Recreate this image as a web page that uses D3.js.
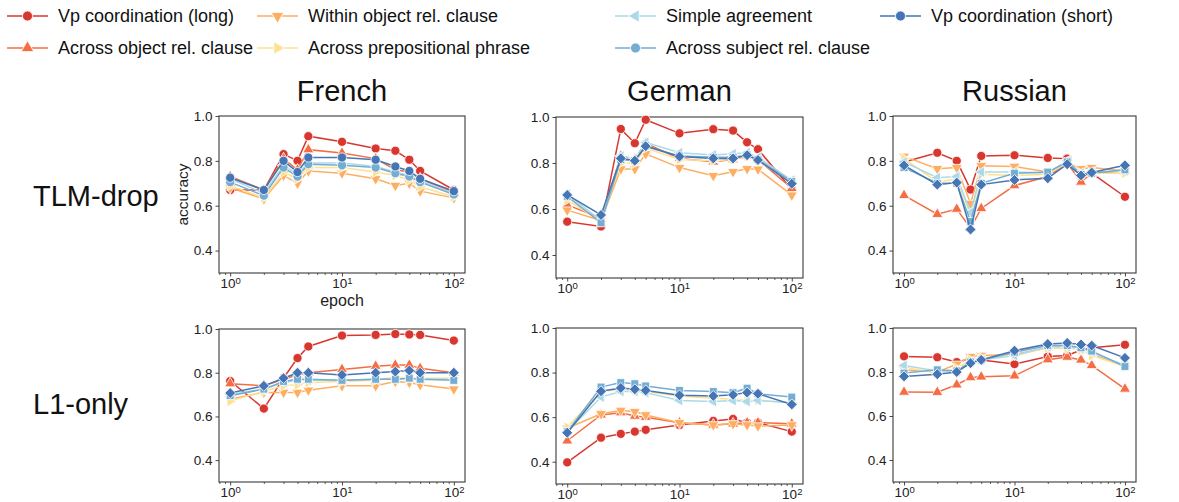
<!DOCTYPE html>
<html>
<head>
<meta charset="utf-8">
<script src="https://cdn.jsdelivr.net/npm/d3@7"></script>
<style>
  body { margin: 0; background: #fff; }
  svg { display: block; font-family: "Liberation Sans", Arial, sans-serif; }
</style>
</head>
<body>
<svg id="chart" width="1179" height="502"></svg>
<script>
// ---- data ----
const epochs = [1, 2, 3, 4, 5, 10, 20, 30, 40, 50, 100];
const languages = ['French', 'German', 'Russian'];
const regimes = ['TLM-drop', 'L1-only'];
const seriesNames = [
    'Vp coordination (long)',
    'Across object rel. clause',
    'Within object rel. clause',
    'Across prepositional phrase',
    'Simple agreement',
    'Across subject rel. clause',
    'Vp coordination (short)'
];
const yTicks = [0.4, 0.6, 0.8, 1.0];
const xTicks = [1, 10, 100];

// rows follow seriesNames order
const frenchTlmDrop = [
    [0.67, 0.67, 0.83, 0.80, 0.91, 0.885, 0.855, 0.845, 0.805, 0.755, 0.67],
    [0.73, 0.67, 0.81, 0.76, 0.85, 0.835, 0.81, 0.76, 0.75, 0.72, 0.66],
    [0.68, 0.63, 0.735, 0.70, 0.755, 0.745, 0.72, 0.69, 0.70, 0.665, 0.635],
    [0.69, 0.635, 0.75, 0.72, 0.77, 0.77, 0.75, 0.735, 0.715, 0.685, 0.64],
    [0.72, 0.655, 0.78, 0.74, 0.79, 0.79, 0.775, 0.75, 0.735, 0.71, 0.655],
    [0.705, 0.645, 0.77, 0.73, 0.785, 0.78, 0.77, 0.745, 0.73, 0.705, 0.65],
    [0.725, 0.67, 0.80, 0.75, 0.815, 0.815, 0.805, 0.775, 0.755, 0.72, 0.665]
];
const germanTlmDrop = [
    [0.545, 0.524, 0.948, 0.886, 0.988, 0.929, 0.947, 0.941, 0.89, 0.86, 0.685],
    [0.618, 0.56, 0.83, 0.815, 0.885, 0.82, 0.805, 0.815, 0.83, 0.815, 0.69],
    [0.595, 0.55, 0.774, 0.774, 0.84, 0.78, 0.745, 0.762, 0.775, 0.773, 0.66],
    [0.64, 0.545, 0.80, 0.80, 0.865, 0.815, 0.81, 0.815, 0.83, 0.81, 0.715],
    [0.665, 0.55, 0.83, 0.82, 0.89, 0.845, 0.835, 0.84, 0.845, 0.825, 0.725],
    [0.655, 0.54, 0.815, 0.81, 0.875, 0.83, 0.825, 0.825, 0.835, 0.815, 0.72],
    [0.661, 0.574, 0.82, 0.81, 0.873, 0.828, 0.82, 0.82, 0.834, 0.813, 0.71]
];
const russianTlmDrop = [
    [0.795, 0.836, 0.80, 0.672, 0.822, 0.825, 0.813, 0.81, 0.73, 0.745, 0.64],
    [0.646, 0.562, 0.585, 0.50, 0.588, 0.69, 0.73, 0.79, 0.706, 0.745, 0.755],
    [0.82, 0.765, 0.77, 0.61, 0.778, 0.775, 0.75, 0.79, 0.765, 0.77, 0.755],
    [0.81, 0.705, 0.72, 0.56, 0.74, 0.735, 0.74, 0.79, 0.745, 0.745, 0.745],
    [0.795, 0.725, 0.73, 0.57, 0.75, 0.75, 0.745, 0.80, 0.745, 0.75, 0.755],
    [0.77, 0.70, 0.70, 0.53, 0.70, 0.745, 0.75, 0.795, 0.74, 0.745, 0.76],
    [0.78, 0.694, 0.703, 0.494, 0.694, 0.715, 0.722, 0.785, 0.735, 0.748, 0.78]
];
const frenchL1Only = [
    [0.762, 0.636, 0.775, 0.867, 0.92, 0.97, 0.973, 0.977, 0.975, 0.973, 0.947],
    [0.75, 0.74, 0.77, 0.79, 0.80, 0.815, 0.83, 0.835, 0.835, 0.82, 0.80],
    [0.68, 0.71, 0.71, 0.71, 0.72, 0.74, 0.74, 0.76, 0.755, 0.745, 0.725],
    [0.67, 0.715, 0.74, 0.745, 0.755, 0.76, 0.765, 0.78, 0.775, 0.775, 0.775],
    [0.70, 0.725, 0.755, 0.765, 0.765, 0.765, 0.77, 0.77, 0.775, 0.77, 0.77],
    [0.695, 0.725, 0.76, 0.77, 0.77, 0.765, 0.77, 0.77, 0.775, 0.77, 0.765],
    [0.707, 0.74, 0.775, 0.80, 0.80, 0.79, 0.80, 0.805, 0.81, 0.80, 0.80]
];
const germanL1Only = [
    [0.397, 0.508, 0.525, 0.535, 0.543, 0.565, 0.583, 0.592, 0.575, 0.575, 0.535],
    [0.494, 0.61, 0.62, 0.605, 0.60, 0.575, 0.565, 0.57, 0.575, 0.575, 0.57],
    [0.55, 0.615, 0.63, 0.625, 0.61, 0.575, 0.565, 0.57, 0.565, 0.56, 0.565],
    [0.555, 0.715, 0.725, 0.72, 0.715, 0.695, 0.685, 0.68, 0.675, 0.675, 0.665],
    [0.535, 0.69, 0.715, 0.715, 0.71, 0.675, 0.67, 0.675, 0.67, 0.675, 0.665],
    [0.535, 0.735, 0.755, 0.75, 0.74, 0.72, 0.715, 0.71, 0.73, 0.705, 0.69],
    [0.53, 0.716, 0.731, 0.725, 0.72, 0.698, 0.695, 0.70, 0.71, 0.705, 0.657]
];
const russianL1Only = [
    [0.871, 0.867, 0.845, 0.86, 0.855, 0.836, 0.87, 0.875, 0.90, 0.91, 0.924],
    [0.709, 0.708, 0.742, 0.775, 0.778, 0.783, 0.856, 0.868, 0.855, 0.83, 0.723],
    [0.81, 0.80, 0.835, 0.87, 0.875, 0.88, 0.91, 0.91, 0.905, 0.88, 0.83],
    [0.82, 0.795, 0.815, 0.855, 0.865, 0.875, 0.91, 0.91, 0.90, 0.875, 0.825],
    [0.83, 0.805, 0.805, 0.845, 0.855, 0.875, 0.915, 0.915, 0.905, 0.89, 0.83],
    [0.795, 0.81, 0.805, 0.845, 0.855, 0.89, 0.92, 0.92, 0.91, 0.895, 0.825],
    [0.78, 0.79, 0.80, 0.84, 0.855, 0.897, 0.927, 0.932, 0.925, 0.92, 0.864]
];

// ---- styling / layout ----
const colors = ['#d8372f', '#f46d43', '#fdae61', '#fee090', '#abd9e9', '#74add1', '#4575b4'];
const plotMarkers = ['circle', 'up', 'down', 'right', 'left', 'square', 'diamond'];
const legendMarkers = ['circle', 'up', 'down', 'right', 'left', 'circle', 'circle'];

const panels = [
    { lang: 0, row: 0, data: frenchTlmDrop, box: [219, 116, 465, 273], markers: legendMarkers },
    { lang: 1, row: 0, data: germanTlmDrop, box: [556, 117, 803, 278], markers: plotMarkers },
    { lang: 2, row: 0, data: russianTlmDrop, box: [893, 116, 1136, 273], markers: plotMarkers },
    { lang: 0, row: 1, data: frenchL1Only, box: [219, 329, 465, 482], markers: plotMarkers },
    { lang: 1, row: 1, data: germanL1Only, box: [556, 328, 803, 484], markers: plotMarkers },
    { lang: 2, row: 1, data: russianL1Only, box: [893, 328, 1136, 482], markers: plotMarkers }
];

const svg = d3.select('#chart');

function symbolPath(kind, size) {
    if (kind === 'circle') return d3.symbol(d3.symbolCircle, size)();
    if (kind === 'square' || kind === 'diamond') return d3.symbol(d3.symbolSquare, size)();
    return d3.symbol(d3.symbolTriangle, size * 0.85)();
}
function symbolRotate(kind) {
    return { down: 180, right: 90, left: -90, diamond: 45 }[kind] || 0;
}
function symbolSize(kind) {
    return { circle: 66, square: 62, diamond: 60 }[kind] || 62;
}

const minorTicks = [];
[0.1, 1, 10].forEach(dec => {
    for (let k = 2; k <= 9; k++) {
        const v = k * dec;
        if (v >= Math.pow(10, -0.1) && v <= Math.pow(10, 2.1)) minorTicks.push(v);
    }
});

panels.forEach(p => {
    const [x0, y0, x1, y1] = p.box;
    const x = d3.scaleLog().domain([Math.pow(10, -0.1), Math.pow(10, 2.1)]).range([x0, x1]);
    const y = d3.scaleLinear().domain([0.3, 1.0]).range([y1, y0]);

    const g = svg.append('g');

    // minor x ticks
    g.append('g')
        .attr('transform', `translate(0,${y1})`)
        .call(d3.axisBottom(x).tickValues(minorTicks).tickSize(2).tickFormat(''))
        .call(a => a.select('.domain').remove())
        .call(a => a.selectAll('line').attr('stroke', '#333').attr('stroke-width', 0.8));

    // major x ticks with 10^n labels
    const xa = g.append('g')
        .attr('transform', `translate(0,${y1})`)
        .call(d3.axisBottom(x).tickValues(xTicks).tickSize(3.5).tickPadding(2).tickFormat(''))
        .call(a => a.select('.domain').remove())
        .call(a => a.selectAll('line').attr('stroke', '#333').attr('stroke-width', 0.9));
    xa.selectAll('.tick text').each(function (d) {
        const t = d3.select(this)
            .attr('fill', '#222')
            .attr('font-size', 13.5)
            .attr('font-family', '"Liberation Sans", Arial, sans-serif')
            .attr('dy', '0.71em');
        t.append('tspan').text('10');
        t.append('tspan').attr('dy', '-0.45em').attr('font-size', 9.5)
            .text(Math.round(Math.log10(d)));
    });

    // y ticks
    g.append('g')
        .attr('transform', `translate(${x0},0)`)
        .call(d3.axisLeft(y).tickValues(yTicks).tickSize(3.5).tickPadding(3).tickFormat(d3.format('.1f')))
        .call(a => a.select('.domain').remove())
        .call(a => a.selectAll('line').attr('stroke', '#333').attr('stroke-width', 0.9))
        .call(a => a.selectAll('text').attr('fill', '#222').attr('font-size', 13.5)
            .attr('font-family', '"Liberation Sans", Arial, sans-serif'));

    // frame
    g.append('rect')
        .attr('x', x0).attr('y', y0)
        .attr('width', x1 - x0).attr('height', y1 - y0)
        .attr('fill', 'none')
        .attr('stroke', '#3a3a3a')
        .attr('stroke-width', 1.1);

    const line = d3.line()
        .x((d, i) => x(epochs[i]))
        .y(d => y(d));

    p.data.forEach((vals, s) => {
        const sg = g.append('g');
        sg.append('path')
            .datum(vals)
            .attr('d', line)
            .attr('fill', 'none')
            .attr('stroke', colors[s])
            .attr('stroke-width', 1.5);
        const kind = p.markers[s];
        sg.selectAll('path.mk')
            .data(vals)
            .enter().append('path')
            .attr('class', 'mk')
            .attr('d', symbolPath(kind, symbolSize(kind)))
            .attr('transform', (d, i) => `translate(${x(epochs[i])},${y(d)}) rotate(${symbolRotate(kind)})`)
            .attr('fill', colors[s])
            .attr('stroke', '#fff')
            .attr('stroke-width', 0.8);
    });

    if (p.lang === 0 && p.row === 0) {
        svg.append('text')
            .attr('transform', `translate(188,${(y0 + y1) / 2}) rotate(-90)`)
            .attr('text-anchor', 'middle')
            .attr('font-size', 15.5)
            .attr('fill', '#222')
            .text('accuracy');
        svg.append('text')
            .attr('x', (x0 + x1) / 2)
            .attr('y', 306)
            .attr('text-anchor', 'middle')
            .attr('font-size', 16)
            .attr('fill', '#222')
            .text('epoch');
    }
});

// column titles
const colCenters = [342, 679.5, 1014.5];
languages.forEach((lang, i) => {
    svg.append('text')
        .attr('x', colCenters[i])
        .attr('y', 101)
        .attr('text-anchor', 'middle')
        .attr('font-size', 29)
        .attr('fill', '#111')
        .text(lang);
});

// row labels
const rowBaselines = [206, 414];
regimes.forEach((r, i) => {
    svg.append('text')
        .attr('x', 33)
        .attr('y', rowBaselines[i])
        .attr('font-size', 29)
        .attr('fill', '#111')
        .text(r);
});

// legend: 4 columns x 2 rows
const legendSlots = [
    [7, 16], [7, 48], [257, 16], [257, 48], [615, 16], [615, 48], [880, 16]
];
seriesNames.forEach((name, s) => {
    const [lx, ly] = legendSlots[s];
    const lg = svg.append('g').attr('transform', `translate(${lx},${ly})`);
    lg.append('line')
        .attr('x1', 0).attr('x2', 41)
        .attr('stroke', colors[s])
        .attr('stroke-width', 1.6);
    const kind = legendMarkers[s];
    lg.append('path')
        .attr('d', symbolPath(kind, 80))
        .attr('transform', `translate(20.5,0) rotate(${symbolRotate(kind)})`)
        .attr('fill', colors[s])
        .attr('stroke', '#fff')
        .attr('stroke-width', 0.8);
    lg.append('text')
        .attr('x', 51)
        .attr('dy', '0.35em')
        .attr('font-size', 18)
        .attr('fill', '#111')
        .text(name);
});
</script>
</body>
</html>
